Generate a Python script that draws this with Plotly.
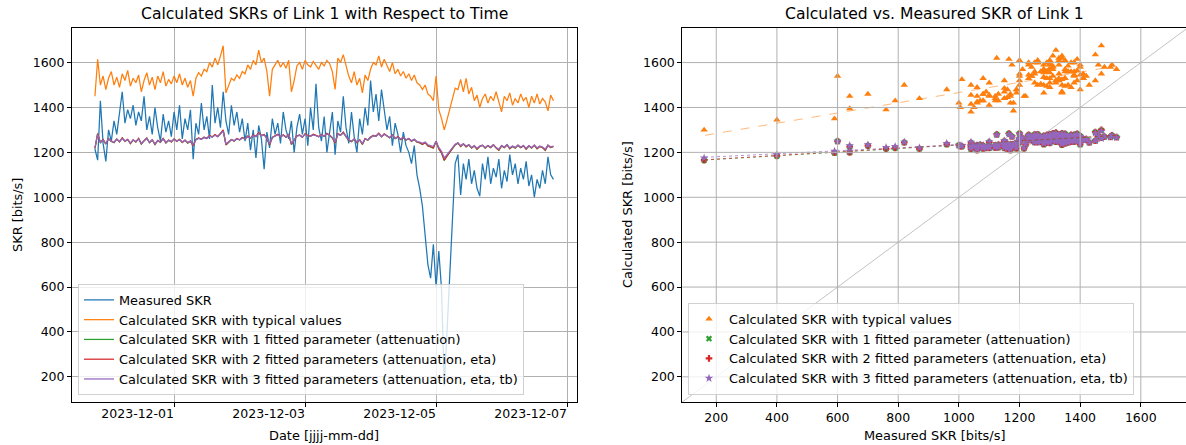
import pandas as pd
import plotly.graph_objects as go

# ---------------- data ----------------
start_time = "2023-11-29 18:40"   # first sample, hourly samples afterwards
n_points = 169

measured = [
    1215, 1165, 1430, 1240, 1160, 1300, 1250, 1340, 1280, 1370,
    1470, 1330, 1390, 1350, 1410, 1320, 1380, 1340, 1450, 1300,
    1360, 1280, 1400, 1310, 1250, 1370, 1290, 1340, 1270, 1380,
    1300, 1410, 1260, 1350, 1300, 1390, 1170, 1330, 1280, 1420,
    1300, 1360, 1260, 1500, 1330, 1400, 1310, 1470, 1340, 1280,
    1410, 1320, 1380, 1290, 1350, 1250, 1330, 1210, 1300, 1175,
    1320, 1260, 1125, 1290, 1220, 1350, 1280, 1330, 1240, 1380,
    1300, 1260, 1340, 1200, 1310, 1370, 1280, 1350, 1230, 1400,
    1300, 1505, 1310, 1250, 1360, 1200, 1300, 1380, 1190, 1340,
    1290, 1450, 1310, 1240, 1380, 1270, 1200, 1350, 1280, 1400,
    1320, 1520, 1380, 1460, 1340, 1480, 1390, 1300, 1360, 1230,
    1330, 1280, 1200, 1290, 1230, 1200, 1150, 1230, 1100, 1040,
    960, 820, 700, 640, 790, 600, 760, 590, 160, 400,
    640, 870, 1150, 1190, 1010, 1150, 1080, 1170, 1060, 1120,
    1040, 1005, 1150, 1080, 1180, 1060, 1130, 1090, 1170, 1040,
    1120, 1070, 1190, 1100, 1150, 1060, 1130, 1080, 1160, 1050,
    1100, 1000, 1080, 1040, 1120, 1060, 1180, 1100, 1080,
]

typical = [
    1450, 1615, 1500, 1540, 1480, 1530, 1560, 1500, 1535, 1490,
    1550, 1520, 1565, 1495, 1530, 1510, 1545, 1470, 1520, 1555,
    1500, 1535, 1480, 1540, 1510, 1560, 1495, 1525, 1505, 1540,
    1510, 1550, 1500, 1530, 1490, 1520, 1450, 1530, 1555, 1540,
    1570, 1560, 1600, 1580, 1620, 1590, 1630, 1675, 1465, 1500,
    1530, 1520, 1545, 1530, 1560, 1550, 1590, 1570, 1610, 1590,
    1655, 1600, 1620, 1560, 1450, 1570, 1590, 1610, 1580, 1600,
    1575, 1610, 1470, 1520, 1585, 1600, 1570, 1610, 1590, 1580,
    1605, 1590, 1570, 1600, 1585, 1610, 1595, 1560, 1480, 1620,
    1600, 1635, 1580, 1540, 1510, 1560, 1500, 1530, 1465, 1545,
    1520, 1570, 1600, 1590, 1630, 1580, 1615, 1590, 1560, 1600,
    1550, 1570, 1540, 1560, 1530, 1550, 1520, 1545, 1510, 1500,
    1480, 1500, 1460, 1450, 1430, 1540, 1390, 1350, 1300, 1345,
    1395, 1440, 1486, 1480, 1525, 1470, 1530, 1460, 1490, 1430,
    1455, 1400, 1440, 1460, 1420, 1450, 1430, 1470, 1420, 1380,
    1450, 1430, 1465, 1410, 1440, 1420, 1460, 1430, 1445, 1400,
    1450, 1420, 1460, 1415, 1440, 1425, 1385, 1455, 1430,
]

fit_att = [
    1217, 1283, 1243, 1256, 1237, 1261, 1249, 1243, 1259, 1246,
    1264, 1249, 1257, 1239, 1255, 1246, 1261, 1237, 1251, 1263,
    1243, 1255, 1235, 1252, 1244, 1261, 1242, 1254, 1246, 1259,
    1249, 1257, 1244, 1254, 1241, 1250, 1229, 1257, 1263, 1258,
    1267, 1262, 1274, 1268, 1278, 1270, 1284, 1298, 1233, 1244,
    1256, 1250, 1261, 1255, 1265, 1259, 1272, 1263, 1276, 1270,
    1286, 1274, 1279, 1262, 1233, 1266, 1273, 1280, 1269, 1277,
    1267, 1280, 1235, 1254, 1273, 1277, 1267, 1282, 1274, 1272,
    1280, 1275, 1269, 1279, 1271, 1284, 1276, 1264, 1241, 1282,
    1276, 1289, 1269, 1253, 1247, 1259, 1243, 1255, 1235, 1260,
    1254, 1267, 1275, 1272, 1284, 1269, 1282, 1274, 1264, 1277,
    1261, 1269, 1257, 1266, 1254, 1261, 1249, 1257, 1245, 1242,
    1235, 1243, 1229, 1224, 1219, 1249, 1215, 1197, 1164, 1183,
    1199, 1215, 1233, 1241, 1226, 1237, 1224, 1233, 1219, 1228,
    1214, 1226, 1231, 1219, 1229, 1221, 1233, 1219, 1209, 1229,
    1221, 1233, 1216, 1226, 1219, 1231, 1221, 1229, 1214, 1228,
    1219, 1231, 1216, 1226, 1221, 1209, 1231, 1221, 1226,
]

fit_att_eta = [
    1218, 1284, 1244, 1257, 1238, 1262, 1250, 1244, 1260, 1247,
    1265, 1250, 1258, 1240, 1256, 1247, 1262, 1238, 1252, 1264,
    1244, 1256, 1236, 1253, 1245, 1262, 1243, 1255, 1247, 1260,
    1250, 1258, 1245, 1255, 1242, 1251, 1230, 1258, 1264, 1259,
    1268, 1263, 1275, 1269, 1279, 1271, 1285, 1300, 1234, 1245,
    1257, 1251, 1262, 1256, 1266, 1260, 1273, 1264, 1277, 1271,
    1288, 1275, 1280, 1263, 1234, 1267, 1274, 1281, 1270, 1278,
    1268, 1281, 1236, 1255, 1274, 1278, 1268, 1283, 1275, 1273,
    1281, 1276, 1270, 1280, 1272, 1285, 1277, 1265, 1242, 1283,
    1277, 1290, 1270, 1254, 1248, 1260, 1244, 1256, 1236, 1261,
    1255, 1268, 1276, 1273, 1285, 1270, 1283, 1275, 1265, 1278,
    1262, 1270, 1258, 1267, 1255, 1262, 1250, 1258, 1246, 1243,
    1236, 1244, 1230, 1225, 1220, 1250, 1216, 1198, 1165, 1184,
    1200, 1216, 1234, 1242, 1227, 1238, 1225, 1234, 1220, 1229,
    1215, 1227, 1232, 1220, 1230, 1222, 1234, 1220, 1210, 1230,
    1222, 1234, 1217, 1227, 1220, 1232, 1222, 1230, 1215, 1229,
    1220, 1232, 1217, 1227, 1222, 1210, 1232, 1222, 1227,
]

fit_att_eta_tb = [
    1220, 1280, 1245, 1255, 1240, 1260, 1250, 1245, 1258, 1248,
    1262, 1250, 1256, 1242, 1255, 1248, 1260, 1240, 1252, 1262,
    1245, 1255, 1238, 1252, 1246, 1260, 1244, 1254, 1248, 1258,
    1250, 1256, 1246, 1254, 1244, 1250, 1234, 1256, 1262, 1258,
    1266, 1262, 1272, 1268, 1276, 1270, 1282, 1295, 1238, 1246,
    1256, 1252, 1260, 1256, 1264, 1260, 1270, 1264, 1274, 1270,
    1284, 1274, 1278, 1264, 1238, 1266, 1272, 1278, 1270, 1276,
    1268, 1278, 1240, 1256, 1272, 1276, 1268, 1280, 1274, 1272,
    1278, 1274, 1270, 1278, 1272, 1282, 1276, 1266, 1246, 1280,
    1276, 1286, 1270, 1256, 1250, 1260, 1246, 1256, 1240, 1260,
    1256, 1266, 1274, 1272, 1282, 1270, 1280, 1274, 1266, 1276,
    1262, 1268, 1260, 1266, 1256, 1262, 1252, 1258, 1248, 1246,
    1240, 1246, 1234, 1230, 1226, 1250, 1222, 1205, 1175, 1190,
    1205, 1220, 1236, 1242, 1230, 1238, 1228, 1234, 1222, 1230,
    1218, 1228, 1232, 1222, 1230, 1224, 1234, 1222, 1214, 1230,
    1224, 1234, 1220, 1228, 1222, 1232, 1224, 1230, 1218, 1230,
    1222, 1232, 1220, 1228, 1224, 1214, 1232, 1224, 1228,
]

# linear trend lines of the scatter panel (end points, data units)
trend_x = [163, 1517]
trend_typical = [1276, 1584]
trend_att = [1166, 1274]
trend_att_eta = [1167, 1276]
trend_att_eta_tb = [1178, 1268]

date_ticks = ["2023-12-01", "2023-12-03", "2023-12-05", "2023-12-07"]
skr_ticks = [200, 400, 600, 800, 1000, 1200, 1400, 1600]
date_range = ["2023-11-29 10:16", "2023-12-07 03:18"]
skr_range = [88, 1754]
scatter_x_range = [88, 1749]

names = [
    "Measured SKR",
    "Calculated SKR with typical values",
    "Calculated SKR with 1 fitted parameter (attenuation)",
    "Calculated SKR with 2 fitted parameters (attenuation, eta)",
    "Calculated SKR with 3 fitted parameters (attenuation, eta, tb)",
]
colors = ["#1f77b4", "#ff7f0e", "#2ca02c", "#d62728", "#9467bd"]

for arr in (measured, typical, fit_att, fit_att_eta, fit_att_eta_tb):
    assert len(arr) == n_points

times = pd.date_range(start_time, periods=n_points, freq="h")

# ---------------- figure ----------------
W, H = 1186, 445
FONT = "DejaVu Sans"
TICK = 12.5
LABEL = 12.9
TITLE = 15.6

fig = go.Figure()

series = [measured, typical, fit_att, fit_att_eta, fit_att_eta_tb]
for vals, nm, col in zip(series, names, colors):
    fig.add_trace(go.Scatter(
        x=times, y=vals, mode="lines", name=nm,
        line=dict(color=col, width=1.25),
        xaxis="x", yaxis="y", legend="legend", hoverinfo="skip",
    ))

# diagonal y = x
fig.add_trace(go.Scatter(
    x=[0, 2000], y=[0, 2000], mode="lines",
    line=dict(color="rgba(128,128,128,0.6)", width=0.8),
    xaxis="x2", yaxis="y2", showlegend=False, hoverinfo="skip",
))

symbols = ["triangle-up", "x", "cross", "star"]
sizes = [6.5, 5.5, 5.5, 6.5]
for vals, nm, col, sym, sz in zip(series[1:], names[1:], colors[1:], symbols, sizes):
    fig.add_trace(go.Scatter(
        x=measured, y=vals, mode="markers", name=nm,
        marker=dict(symbol=sym, size=sz, color=col, line=dict(width=0)),
        xaxis="x2", yaxis="y2", legend="legend2", hoverinfo="skip",
    ))

trends = [trend_typical, trend_att, trend_att_eta, trend_att_eta_tb]
trend_colors = ["rgba(255,127,14,0.55)", "rgba(44,160,44,0.7)",
                "rgba(214,39,40,0.7)", "rgba(148,103,189,0.7)"]
trend_dash = ["dash", "dot", "dot", "dot"]
for tv, tc, td in zip(trends, trend_colors, trend_dash):
    fig.add_trace(go.Scatter(
        x=trend_x, y=tv, mode="lines",
        line=dict(color=tc, width=1, dash=td),
        xaxis="x2", yaxis="y2", showlegend=False, hoverinfo="skip",
    ))

# grid of the scatter panel drawn above the markers (as in the reference)
grid_col = "#b0b0b0"
shapes = []
for t in skr_ticks:
    shapes.append(dict(type="line", xref="x2", yref="y2 domain", x0=t, x1=t,
                       y0=0, y1=1, line=dict(color=grid_col, width=1), layer="above"))
    shapes.append(dict(type="line", xref="x2 domain", yref="y2", x0=0, x1=1,
                       y0=t, y1=t, line=dict(color=grid_col, width=1), layer="above"))

x1_dom = [72 / W, 577 / W]
x2_dom = [682.3 / W, 1.0]
y_dom = [(H - 402) / H, (H - 28) / H]

axis_common = dict(
    showline=True, linecolor="black", linewidth=1,
    ticks="outside", ticklen=4, tickwidth=1, tickcolor="black",
    tickfont=dict(family=FONT, size=TICK, color="black"),
    zeroline=False, gridcolor=grid_col, gridwidth=1,
)

legend_common = dict(
    xanchor="left", yanchor="bottom",
    bgcolor="rgba(255,255,255,0.8)", bordercolor="rgba(204,204,204,0.9)",
    borderwidth=1, font=dict(family=FONT, size=LABEL, color="black"),
)

fig.update_layout(
    width=W, height=H,
    margin=dict(l=0, r=0, t=0, b=0),
    paper_bgcolor="white", plot_bgcolor="white",
    font=dict(family=FONT, size=TICK, color="black"),
    hovermode=False,
    xaxis=dict(domain=x1_dom, anchor="y", type="date", range=date_range,
               tickvals=date_ticks, tickformat="%Y-%m-%d",
               ticklabelposition="outside left",
               mirror=True, showgrid=True, **axis_common),
    yaxis=dict(domain=y_dom, anchor="x", range=skr_range, tickvals=skr_ticks,
               mirror=True, showgrid=True, **axis_common),
    xaxis2=dict(domain=x2_dom, anchor="y2", range=scatter_x_range, tickvals=skr_ticks,
                mirror=True, showgrid=False, **axis_common),
    yaxis2=dict(domain=y_dom, anchor="x2", range=skr_range, tickvals=skr_ticks,
                mirror=False, showgrid=False, **axis_common),
    legend=dict(x=78 / W, y=(H - 395) / H, **legend_common),
    legend2=dict(x=688 / W, y=(H - 395) / H, **legend_common),
    shapes=shapes,
)

def ann(text, x, y, size, angle=0):
    return dict(text=text, x=x / W, y=(H - y) / H, xref="paper", yref="paper",
                xanchor="center", yanchor="middle", showarrow=False, textangle=angle,
                font=dict(family=FONT, size=size, color="black"))

fig.update_layout(annotations=[
    ann("Calculated SKRs of Link 1 with Respect to Time", (72 + 577) / 2, 14, TITLE),
    ann("Calculated vs. Measured SKR of Link 1", (682.3 + 1187) / 2, 14, TITLE),
    ann("Date [jjjj-mm-dd]", (72 + 577) / 2, 435, LABEL),
    ann("Measured SKR [bits/s]", (682.3 + 1187) / 2, 435, LABEL),
    ann("SKR [bits/s]", 18, 215, LABEL, -90),
    ann("Calculated SKR [bits/s]", 628, 215, LABEL, -90),
])

fig.write_html("out.html")
